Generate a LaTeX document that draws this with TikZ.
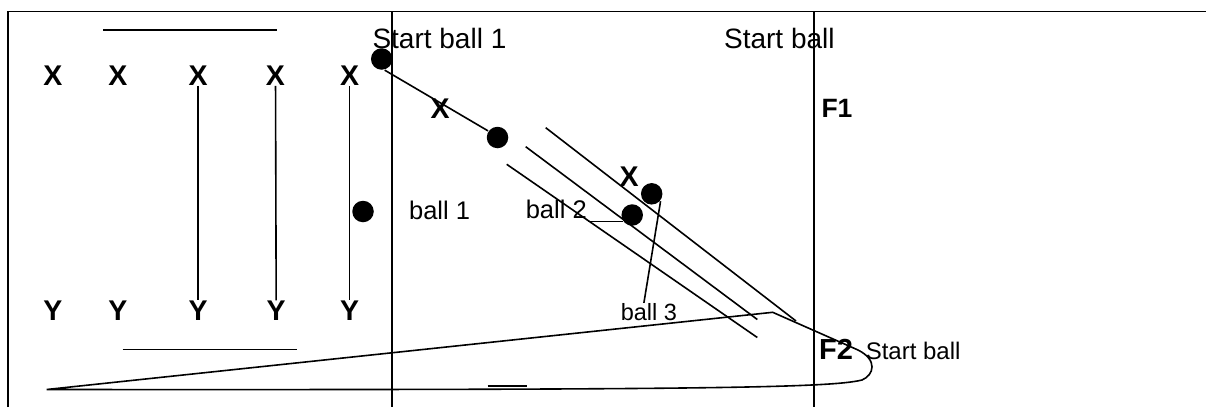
\documentclass[tikz,border=0pt]{standalone}
\usepackage{fontspec}
\setmainfont{Liberation Sans}
\usetikzlibrary{arrows.meta}

\begin{document}
\begin{tikzpicture}[
        x=1pt, y=-1pt, line width=1.6pt,
        ballNode/.style={circle, fill, inner sep=0pt, minimum size=21.5pt},
        letterNode/.style={inner sep=0pt, anchor=base, font=\bfseries\fontsize{28.5}{30}\selectfont},
        textNode/.style={inner sep=0pt, anchor=base west, font=\fontsize{#1}{30}\selectfont}
    ]
        \useasboundingbox (0,0) rectangle (1206,407);

        % field
        \draw (8,407) -- (8,11.5) -- (1206,11.5);
        \draw (392,11.5) -- (392,407);
        \draw (814,11.5) -- (814,407);
        \draw (103,30) -- (277,30);
        \draw (122.7,349.3) -- (296.7,349.3);
        \draw (487.7,386) -- (527.3,386);

        % players
        \node[letterNode] (x1) at (52.8,85) {X};
        \node[letterNode] (x2) at (117.8,85) {X};
        \node[letterNode] (x3) at (198.2,85) {X};
        \node[letterNode] (x4) at (275.5,85) {X};
        \node[letterNode] (x5) at (349.5,85) {X};
        \node[letterNode] (y1) at (52.8,320.7) {Y};
        \node[letterNode] (y2) at (117.8,320.7) {Y};
        \node[letterNode] (y3) at (198.2,320.7) {Y};
        \node[letterNode] (y4) at (276.2,320.7) {Y};
        \node[letterNode] (y5) at (349.5,320.7) {Y};
        \node[letterNode] (xLine) at (440,118.3) {X};
        \node[letterNode] (xBall) at (629,186.5) {X};
        \node[letterNode, anchor=base west, font=\bfseries\fontsize{26.5}{30}\selectfont] (f1) at (820.7,117.3) {F1};
        \node[letterNode, anchor=base west, font=\bfseries\fontsize{29}{30}\selectfont] (f2) at (818.3,359.3) {F2};

        % labels
        \node[textNode=28] (startOne) at (371.7,48.3) {Start ball 1};
        \node[textNode=28] (startTop) at (723.3,48.3) {Start ball};
        \node[textNode=25.5] (labOne) at (408.3,219) {ball 1};
        \node[textNode=25.5] (labTwo) at (525,218.3) {ball 2};
        \node[textNode=23.5] (labThree) at (620,320.7) {ball 3};
        \node[textNode=24] (startLow) at (865,359.3) {Start ball};

        % balls
        \node[ballNode] (ballStart) at (381.7,59) {};
        \node[ballNode] (ballOne) at (363,211.5) {};
        \node[ballNode] (ballMid) at (497.5,137.5) {};
        \node[ballNode] (ballTwo) at (632.2,215) {};
        \node[ballNode] (ballThree) at (651.7,193.8) {};

        % runs
        \draw (x3) -- (y3);
        \draw (x4) -- (y4);
        \draw (x5) -- (y5);
        \draw (ballStart.-75) -- (ballMid.145);
        \draw (ballTwo.215) -- (ballTwo.215 -| labTwo.east);
        \draw (ballThree.-40) -- ([xshift=-5pt]labThree.north);

        % passing lanes
        \draw (545.7,127.7) -- (796,321);
        \draw (525.7,146.7) -- (757.3,319.5);
        \draw (506.7,164.3) -- (757.3,337.5);
        \draw (46.7,389.5) -- (772.7,312.3) -- (858,350)
            .. controls (878,360) and (874,375) .. (862,380)
            .. controls (830,388) and (700,390) .. (46.7,389.5);
    \end{tikzpicture}
\end{document}
